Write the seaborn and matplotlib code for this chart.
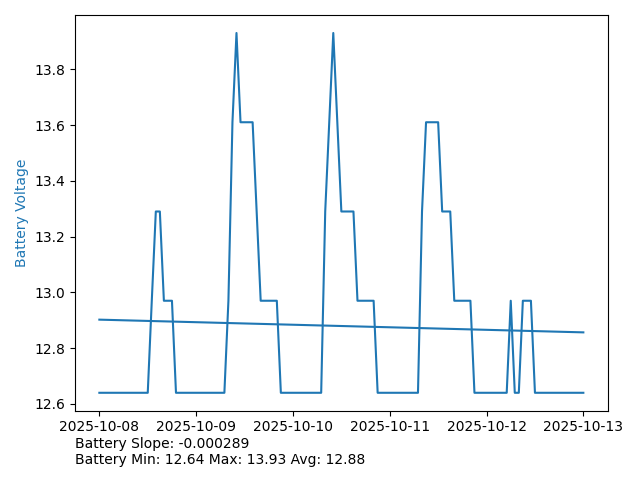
import numpy as np
import pandas as pd
import matplotlib
matplotlib.use("Agg")
import matplotlib.pyplot as plt
import seaborn as sns

# hourly readings from 2025-10-08 00:00
start = "2025-10-08 00:00"
voltage = (
    [12.64] * 13 + [12.97] + [13.29] * 2 + [12.97] * 3
    + [12.64] * 13 + [12.97, 13.61, 13.93] + [13.61] * 4 + [13.29]
    + [12.97] * 5 + [12.64] * 11 + [13.29, 13.61, 13.93, 13.61]
    + [13.29] * 4 + [12.97] * 5 + [12.64] * 11 + [13.29] + [13.61] * 4
    + [13.29] * 3 + [12.97] * 5 + [12.64] * 9 + [12.97] + [12.64] * 2
    + [12.97] * 3 + [12.64] * 13
)
slope_text = "Battery Slope: -0.000289"
stats_text = "Battery Min: 12.64 Max: 13.93 Avg: 12.88"

df = pd.DataFrame({
    "time": pd.date_range(start, periods=len(voltage), freq="h"),
    "voltage": voltage,
})

# linear trend on hour index
hours = np.arange(len(df))
m, b = np.polyfit(hours, df["voltage"], 1)
df["trend"] = m * hours + b

fig, ax = plt.subplots(figsize=(6.4, 4.8), dpi=100)
sns.lineplot(data=df, x="time", y="voltage", color="tab:blue", ax=ax)
sns.lineplot(data=df, x="time", y="trend", color="tab:blue", ax=ax)

ax.set_xlabel("")
ax.set_ylabel("Battery Voltage", color="tab:blue")
ax.text(0, -0.065, slope_text + "\n" + stats_text, transform=ax.transAxes,
        va="top", ha="left", fontsize=10)

plt.tight_layout()
plt.savefig("out.png")
